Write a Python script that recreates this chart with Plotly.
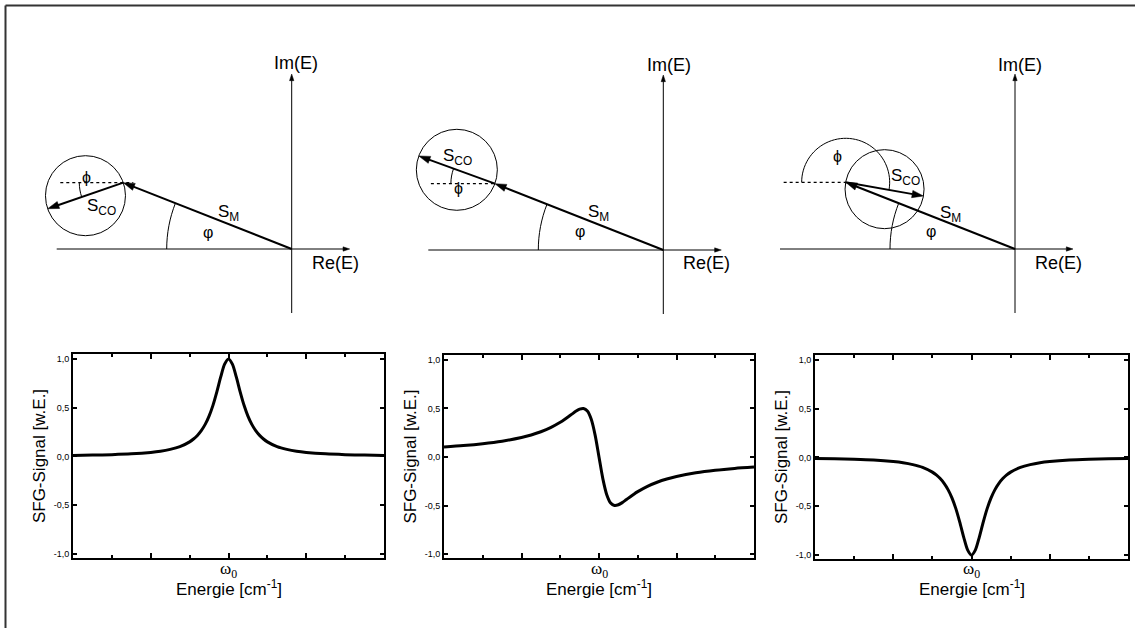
import math
import plotly.graph_objects as go

W, H = 1135, 628

# ---------------- spectra (bottom row) ----------------
X_REL = [-4, -3.5, -3, -2.5, -2, -1.75, -1.5, -1.25, -1, -0.9, -0.8, -0.7, -0.6, -0.5,
         -0.4, -0.3, -0.2, -0.1, 0, 0.1, 0.2, 0.3, 0.4, 0.5, 0.6, 0.7, 0.8, 0.9, 1,
         1.25, 1.5, 1.75, 2, 2.5, 3, 3.5, 4]
SIGNAL_A = [0.011, 0.014, 0.019, 0.027, 0.042, 0.054, 0.073, 0.101, 0.150, 0.179, 0.216,
            0.265, 0.329, 0.414, 0.524, 0.662, 0.815, 0.946, 1.000, 0.946, 0.815, 0.662,
            0.524, 0.414, 0.329, 0.265, 0.216, 0.179, 0.150, 0.101, 0.073, 0.054, 0.042,
            0.027, 0.019, 0.014, 0.011]
SIGNAL_B = [0.104, 0.118, 0.137, 0.163, 0.201, 0.227, 0.260, 0.302, 0.357, 0.383, 0.412,
            0.441, 0.470, 0.492, 0.499, 0.473, 0.388, 0.225, 0.000, -0.225, -0.388, -0.473,
            -0.499, -0.492, -0.470, -0.441, -0.412, -0.383, -0.357, -0.302, -0.260, -0.227,
            -0.201, -0.163, -0.137, -0.118, -0.104]
SIGNAL_C = [-0.011, -0.014, -0.019, -0.027, -0.042, -0.054, -0.073, -0.101, -0.150, -0.179,
            -0.216, -0.265, -0.329, -0.414, -0.524, -0.662, -0.815, -0.946, -1.000, -0.946,
            -0.815, -0.662, -0.524, -0.414, -0.329, -0.265, -0.216, -0.179, -0.150, -0.101,
            -0.073, -0.054, -0.042, -0.027, -0.019, -0.014, -0.011]
SIGNALS = [SIGNAL_A, SIGNAL_B, SIGNAL_C]

Y_TICKS = [-1.0, -0.5, 0.0, 0.5, 1.0]
Y_TICK_TEXT = ["-1,0", "-0,5", "0,0", "0,5", "1,0"]
X_MAJOR = [-2, 0, 2]
X_MINOR = [-3, -1, 1, 3]
X_LABEL_POS = 0
X_LABEL_TEXT = "ω<sub>0</sub>"
Y_TITLE = "SFG-Signal [w.E.]"
X_TITLE = "Energie [cm<sup>-1</sup>]"

# ---------------- phasor diagrams (top row) ----------------
SM_LENGTH = [181, 181, 182]          # |S_M|
SM_ANGLE = [21.5, 21.5, 21.5]        # φ (deg, above negative Re axis)
SCO_LENGTH = [80, 81, 79]            # |S_CO|
SCO_DIRECTION = [199, 160, -10]      # direction of S_CO (deg)
PHASE_REF = 180                      # dotted reference direction
DOT_EXTENT = [(-63, 10), (-64, 0), (-62, 0)]
RE_AXIS = (-235, 58)
IM_AXIS = (-64, 175)
PHI_ARC_R = 125
PHASE_ARC_R = 44

# ---------------- layout constants ----------------
FONT = "Liberation Sans, Arial, sans-serif"
PLOT_BOX = [(73, 384, 354, 558), (444, 754, 355, 558), (815, 1128, 355, 559)]
ORIGINS = [(291.7, 249), (663.3, 250), (1015, 249)]
LABELS = [
    dict(phase=(-204.7, 72), sco=(-189.7, 42), sm=(-63.7, 36), phi=(-83.7, 17), im=(4.3, 186), re=(43.3, -14)),
    dict(phase=(-205, 61.7), sco=(-206, 93.3), sm=(-64.3, 37), phi=(-83.3, 18.3), im=(5.7, 185), re=(43.4, -13)),
    dict(phase=(-177.7, 92.3), sco=(-109.3, 71.7), sm=(-64.3, 35), phi=(-84.3, 17.3), im=(5, 184), re=(43.3, -14)),
]

fig = go.Figure()
shapes = []
annotations = []
layout = {}


def pol(r, deg):
    return r * math.cos(math.radians(deg)), r * math.sin(math.radians(deg))


def arc_path(cx, cy, r, a0, a1):
    n = max(1, math.ceil(abs(a1 - a0) / 90.0))
    seg = (a1 - a0) / n
    k = 4.0 / 3.0 * math.tan(math.radians(seg) / 4.0)
    x0, y0 = cx + pol(r, a0)[0], cy + pol(r, a0)[1]
    p = f"M {x0:.2f},{y0:.2f}"
    for i in range(n):
        t0 = math.radians(a0 + i * seg)
        t1 = math.radians(a0 + (i + 1) * seg)
        p0 = (cx + r * math.cos(t0), cy + r * math.sin(t0))
        p3 = (cx + r * math.cos(t1), cy + r * math.sin(t1))
        p1 = (p0[0] - k * r * math.sin(t0), p0[1] + k * r * math.cos(t0))
        p2 = (p3[0] + k * r * math.sin(t1), p3[1] - k * r * math.cos(t1))
        p += f" C {p1[0]:.2f},{p1[1]:.2f} {p2[0]:.2f},{p2[1]:.2f} {p3[0]:.2f},{p3[1]:.2f}"
    return p


# bottom spectra
for i, sig in enumerate(SIGNALS):
    xa = "x" if i == 0 else f"x{i+1}"
    ya = "y" if i == 0 else f"y{i+1}"
    fig.add_trace(go.Scatter(x=X_REL, y=sig, mode="lines", xaxis=xa, yaxis=ya,
                             line=dict(color="black", width=3, shape="spline", smoothing=0.8),
                             hoverinfo="skip", showlegend=False))
    l, r, t, b = PLOT_BOX[i]
    key = "" if i == 0 else str(i + 1)
    layout["xaxis" + key] = dict(
        domain=[l / W, r / W], anchor=ya, range=[-4, 4],
        showline=True, linecolor="black", linewidth=2, mirror="ticks",
        ticks="inside", ticklen=5, tickwidth=1.5, tickcolor="black",
        tickvals=X_MAJOR, showticklabels=False,
        minor=dict(tickvals=X_MINOR, ticks="inside", ticklen=3, tickwidth=1.5, tickcolor="black"),
        showgrid=False, zeroline=False, fixedrange=True, automargin=False,
    )
    layout["yaxis" + key] = dict(
        domain=[1 - b / H, 1 - t / H], anchor=xa, range=[-1.04, 1.05],
        showline=True, linecolor="black", linewidth=2, mirror="ticks",
        ticks="inside", ticklen=4, tickwidth=1.5, tickcolor="black",
        tickvals=Y_TICKS, ticktext=Y_TICK_TEXT,
        tickfont=dict(family=FONT, size=9, color="black"),
        showgrid=False, zeroline=False, fixedrange=True, automargin=False,
        title=dict(text=Y_TITLE, font=dict(family=FONT, size=17, color="black"), standoff=4),
    )
    # omega_0 tick label and x title
    annotations.append(dict(x=X_LABEL_POS, xref=xa, y=1 - 570 / H, yref="paper", text=X_LABEL_TEXT,
                            showarrow=False, xanchor="center", yanchor="middle",
                            font=dict(family="Liberation Serif, Times New Roman, serif", size=17, color="black")))
    annotations.append(dict(x=0.5, xref=f"{xa} domain", y=1 - 588 / H, yref="paper", text=X_TITLE,
                            showarrow=False, xanchor="center", yanchor="middle",
                            font=dict(family=FONT, size=17, color="black")))

# top phasor diagrams
for i in range(3):
    n = i + 4
    xa, ya = f"x{n}", f"y{n}"
    ox, oy = ORIGINS[i]
    layout[f"xaxis{n}"] = dict(domain=[(ox - 260) / W, (ox + 90) / W], range=[-260, 90],
                               anchor=ya, visible=False, fixedrange=True)
    layout[f"yaxis{n}"] = dict(domain=[1 - 330 / H, 1 - 35 / H], range=[oy - 330, oy - 35],
                               anchor=xa, visible=False, fixedrange=True)

    tipx, tipy = pol(SM_LENGTH[i], 180 - SM_ANGLE[i])
    sx, sy = pol(SCO_LENGTH[i], SCO_DIRECTION[i])
    endx, endy = tipx + sx, tipy + sy

    # dotted reference line
    d0, d1 = DOT_EXTENT[i]
    fig.add_trace(go.Scatter(x=[tipx + d0, tipx + d1], y=[tipy, tipy], mode="lines",
                             xaxis=xa, yaxis=ya, line=dict(color="black", width=1.2, dash="dot"),
                             hoverinfo="skip", showlegend=False))

    # circle of S_CO
    cx, cy = tipx + sx / 2, tipy + sy / 2
    rr = SCO_LENGTH[i] / 2
    shapes.append(dict(type="circle", xref=xa, yref=ya, x0=cx - rr, x1=cx + rr,
                       y0=cy - rr, y1=cy + rr, line=dict(color="black", width=1)))
    # phi arc (origin)
    shapes.append(dict(type="path", xref=xa, yref=ya,
                       path=arc_path(0, 0, PHI_ARC_R, 180, 180 - SM_ANGLE[i]),
                       line=dict(color="black", width=1)))
    # phase arc (at tip)
    shapes.append(dict(type="path", xref=xa, yref=ya,
                       path=arc_path(tipx, tipy, PHASE_ARC_R, PHASE_REF, SCO_DIRECTION[i]),
                       line=dict(color="black", width=1)))

    def arrow(x0, y0, x1, y1, w, size):
        fig.add_trace(go.Scatter(
            x=[x0, x1], y=[y0, y1], mode="lines+markers", xaxis=xa, yaxis=ya,
            line=dict(color="black", width=w),
            marker=dict(symbol=["circle", "arrow"], size=[0, size], angleref="previous",
                        color="black", opacity=1, line=dict(width=0.5, color="black")),
            hoverinfo="skip", showlegend=False, cliponaxis=False))

    # coordinate axes
    arrow(RE_AXIS[0], 0, RE_AXIS[1], 0, 1, 7)
    arrow(0, IM_AXIS[0], 0, IM_AXIS[1], 1, 7)
    # S_M and S_CO
    arrow(0, 0, tipx, tipy, 2, 12)
    arrow(tipx, tipy, endx, endy, 2, 12)

    lb = LABELS[i]

    def label(pos, text, size):
        annotations.append(dict(x=pos[0], y=pos[1], xref=xa, yref=ya, text=text, showarrow=False,
                                xanchor="center", yanchor="middle",
                                font=dict(family=FONT, size=size, color="black")))

    label(lb["im"], "Im(E)", 18)
    label(lb["re"], "Re(E)", 18)
    label(lb["sm"], "S<sub>M</sub>", 17)
    label(lb["sco"], "S<sub>CO</sub>", 17)
    label(lb["phi"], "φ", 16)
    label(lb["phase"], "ϕ", 16)

# frame (top & left edges)
shapes.append(dict(type="line", xref="paper", yref="paper", x0=5.5 / W, x1=1, y0=1 - 5.5 / H, y1=1 - 5.5 / H,
                   line=dict(color="#333333", width=2)))
shapes.append(dict(type="line", xref="paper", yref="paper", x0=5.5 / W, x1=5.5 / W, y0=0, y1=1 - 5.5 / H,
                   line=dict(color="#333333", width=2)))

fig.update_layout(
    width=W, height=H,
    margin=dict(l=0, r=0, t=0, b=0, autoexpand=False),
    paper_bgcolor="white", plot_bgcolor="rgba(0,0,0,0)",
    showlegend=False,
    font=dict(family=FONT, color="black"),
    shapes=shapes, annotations=annotations,
    **layout,
)

fig.write_html("out.html", config={"displayModeBar": False},
               post_script="document.body.style.margin='0';document.body.style.overflow='hidden';")
